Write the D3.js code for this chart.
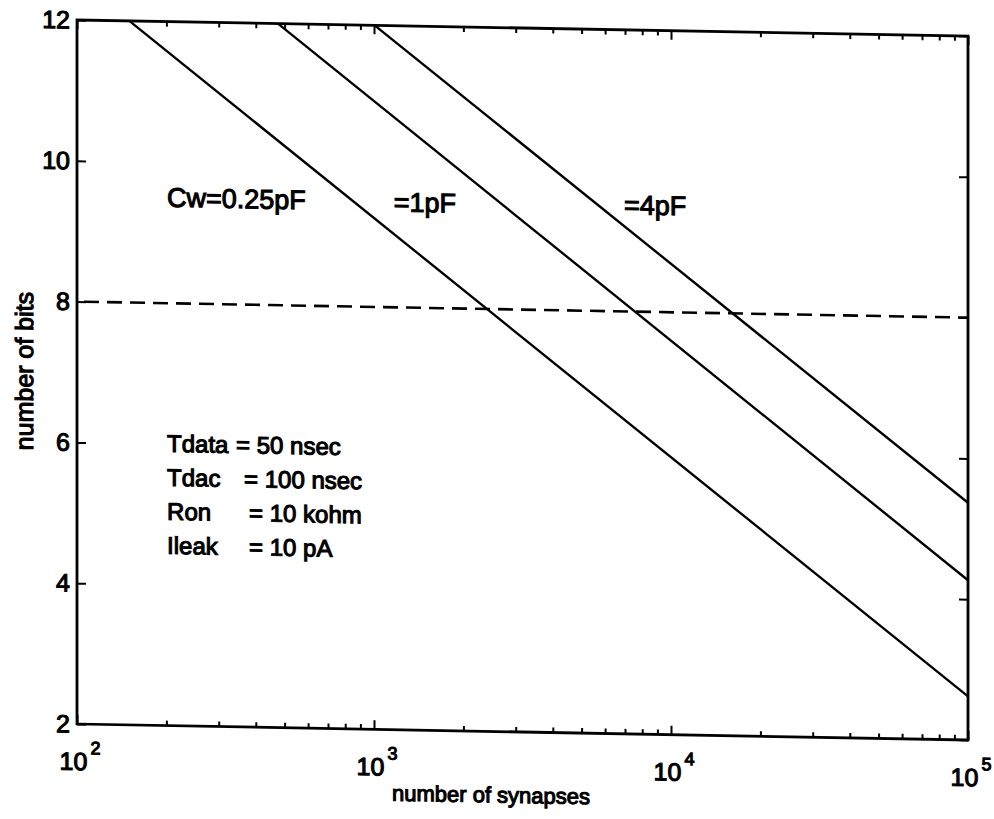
<!DOCTYPE html>
<html>
<head>
<meta charset="utf-8">
<script src="https://cdn.jsdelivr.net/npm/d3@7"></script>
<style>
  body { margin: 0; background: #fff; }
  text { font-family: "Liberation Sans", Arial, Helvetica, sans-serif; fill: #000; stroke: #000; stroke-width: 1.1px; }
</style>
</head>
<body>
<div id="chart"></div>
<script>
// values
const cw025 = [[150, 12], [100000, 2.62]];
const cw1 = [[475, 12], [100000, 4.27]];
const cw4 = [[1005, 12], [100000, 5.37]];
const bitTarget = [[100, 8], [100000, 8]];

const curveLabels = ["Cw=0.25pF", "=1pF", "=4pF"];
const xDecades = [2, 3, 4, 5];
const yTicks = [2, 4, 6, 8, 10, 12];
const paramNames = ["Tdata", "Tdac", "Ron", "Ileak"];
const paramValues = ["= 50 nsec", "= 100 nsec", "= 10 kohm", "= 10 pA"];

const width = 994;
const height = 819;
const margin = { left: 77, top: 20 };
const W = 891;
const H = 704;

const svg = d3.select("#chart").append("svg")
    .attr("width", width)
    .attr("height", height);

// the scan is slightly sheared, so the whole plot is skewed a little
const g = svg.append("g")
    .attr("transform", `translate(${margin.left},${margin.top}) skewY(1.03)`);

const x = d3.scaleLog().domain([1e2, 1e5]).range([0, W]);
const y = d3.scaleLinear().domain([2, 12]).range([H, 0]);

// minor + major ticks for the log axis
const xTickVals = [];
xDecades.forEach(e => {
    for (let m = 1; m <= 9; m++) {
        const v = m * Math.pow(10, e);
        if (v <= 1e5) xTickVals.push(v);
    }
});
const isMajor = v => Math.abs(Math.log10(v) - Math.round(Math.log10(v))) < 1e-9;

const bottomAxis = g.append("g")
    .attr("transform", `translate(0,${H})`)
    .call(d3.axisBottom(x).tickValues(xTickVals).tickFormat("").tickSizeOuter(0));
const topAxis = g.append("g")
    .call(d3.axisTop(x).tickValues(xTickVals).tickFormat("").tickSizeOuter(0));
bottomAxis.selectAll(".tick line").attr("y2", d => isMajor(d) ? -9 : -5);
topAxis.selectAll(".tick line").attr("y2", d => isMajor(d) ? 9 : 5);

const leftAxis = g.append("g")
    .call(d3.axisLeft(y).tickValues(yTicks).tickSize(-9).tickSizeOuter(0).tickPadding(7));
const rightAxis = g.append("g")
    .attr("transform", `translate(${W},0)`)
    .call(d3.axisRight(y).tickValues(yTicks).tickSize(-9).tickSizeOuter(0).tickFormat(""));

g.selectAll(".domain").remove();
g.selectAll(".tick line").attr("stroke", "#000").attr("stroke-width", 2);
leftAxis.selectAll(".tick text")
    .attr("font-size", 25)
    .attr("font-family", "Liberation Sans, Arial, sans-serif");

// x tick labels as 10^n
const xLabels = g.append("g");
xDecades.forEach(e => {
    const t = xLabels.append("text")
        .attr("x", x(Math.pow(10, e)) + 3)
        .attr("y", H + 46)
        .attr("text-anchor", "middle")
        .attr("font-size", 25);
    t.append("tspan").text("10");
    t.append("tspan").attr("dx", 3).attr("dy", -16).attr("font-size", 18).text(e);
});

// frame
g.append("rect")
    .attr("width", W).attr("height", H)
    .attr("fill", "none").attr("stroke", "#000").attr("stroke-width", 2.8);

const line = d3.line().x(d => x(d[0])).y(d => y(d[1]));

g.selectAll(".curve")
    .data([cw025, cw1, cw4])
    .join("path")
    .attr("class", "curve")
    .attr("d", line)
    .attr("fill", "none")
    .attr("stroke", "#000")
    .attr("stroke-width", 2.4);

g.append("path")
    .attr("d", line(bitTarget))
    .attr("fill", "none")
    .attr("stroke", "#000")
    .attr("stroke-width", 2.6)
    .attr("stroke-dasharray", "15,8")
    .attr("stroke-dashoffset", 16);

// curve labels (placed like MATLAB text(), in data units)
const labelAnchors = [[201, 9.37], [1166, 9.36], [6950, 9.38]];
g.selectAll(".clabel")
    .data(curveLabels)
    .join("text")
    .attr("class", "clabel")
    .attr("x", (d, i) => x(labelAnchors[i][0]))
    .attr("y", (d, i) => y(labelAnchors[i][1]))
    .attr("font-size", 27)
    .text(d => d);

// parameter block, "=" column offsets follow the original spacing
const eqX = [69, 77, 82, 82];
const params = g.append("g").attr("transform", `translate(${x(201)},${y(5.89)})`);
paramNames.forEach((name, i) => {
    const t = params.append("text")
        .attr("y", i * 34)
        .attr("font-size", 24);
    t.append("tspan").attr("x", 0).text(name);
    t.append("tspan").attr("x", eqX[i]).text(paramValues[i]);
});

// axis titles
g.append("text")
    .attr("transform", `translate(-44,${H / 2}) rotate(-90)`)
    .attr("text-anchor", "middle")
    .attr("font-size", 25)
    .text("number of bits");

g.append("text")
    .attr("x", 414)
    .attr("y", H + 71)
    .attr("text-anchor", "middle")
    .attr("font-size", 22)
    .text("number of synapses");
</script>
</body>
</html>
